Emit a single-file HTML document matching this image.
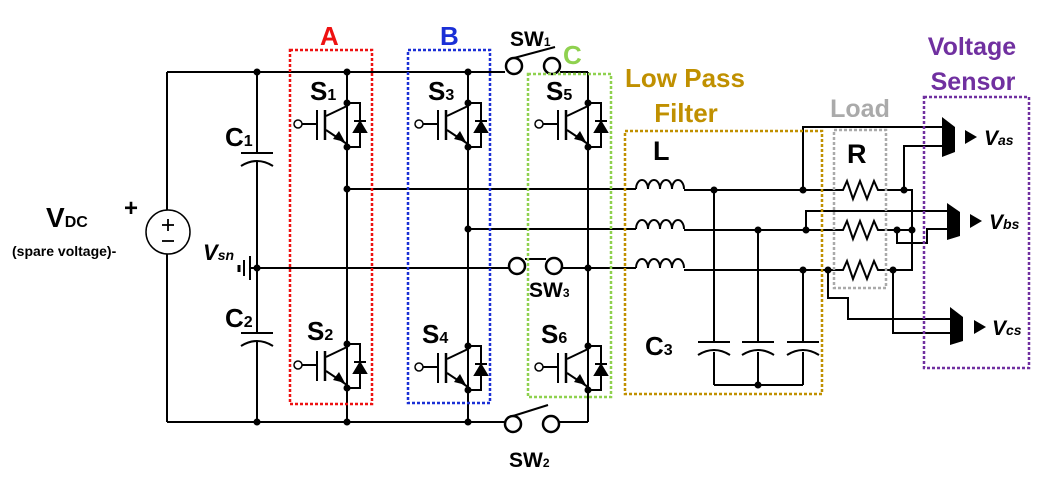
<!DOCTYPE html>
<html><head><meta charset="utf-8"><style>
html,body{margin:0;padding:0;background:#fff}
svg{display:block}
text{font-family:"Liberation Sans",sans-serif;font-weight:bold}
</style></head><body>
<svg width="1055" height="501" viewBox="0 0 1055 501" xmlns="http://www.w3.org/2000/svg">
<defs>
<g id="igbt" stroke="#000" stroke-width="2" fill="none">
<polyline points="0,0 13,0 13,44 0,44"/>
<polygon points="7,29 19,29 13,19" fill="#000"/>
<line x1="7" y1="18" x2="19" y2="18"/>
<line x1="0" y1="3" x2="-21" y2="13"/>
<line x1="-22" y1="7" x2="-22" y2="37" stroke-width="2.5"/>
<line x1="-30" y1="7" x2="-30" y2="37" stroke-width="2"/>
<line x1="-45" y1="21" x2="-30" y2="21"/>
<circle cx="-49" cy="21" r="4" fill="#fff" stroke-width="1.5"/>
<line x1="-21" y1="27" x2="0" y2="41"/>
<polygon points="-2,39 -14,36 -8,28" fill="#000" stroke="none"/>
<circle cx="0" cy="0" r="3.5" fill="#000" stroke="none"/>
<circle cx="0" cy="44" r="3.5" fill="#000" stroke="none"/>
</g>
<path id="coil" d="M0,0 a6,9 0 0 1 12,0 a6,9 0 0 1 12,0 a6,9 0 0 1 12,0 a6,9 0 0 1 12,0" fill="none" stroke="#000" stroke-width="2"/>
<polyline id="res" points="0,0 5,0 9,-9 15,9 22,-9 29,9 36,-9 40,0 45,0" fill="none" stroke="#000" stroke-width="2"/>
<g id="cap" fill="none" stroke="#000" stroke-width="2"><line x1="-16" y1="0" x2="16" y2="0"/><path d="M-16,13 Q0,3 16,13"/></g>
</defs>

<g stroke="#000" stroke-width="2" fill="none">
<line x1="167" y1="72" x2="505" y2="72"/>
<line x1="167" y1="72" x2="167" y2="210"/>
<line x1="167" y1="254" x2="167" y2="422"/>
<line x1="167" y1="422" x2="505" y2="422"/>
<circle cx="168" cy="232" r="22" stroke-width="1.5"/>
<line x1="257" y1="72" x2="257" y2="153"/>
<line x1="257" y1="161" x2="257" y2="333"/>
<line x1="257" y1="341" x2="257" y2="422"/>
<use href="#cap" x="257" y="153"/>
<use href="#cap" x="257" y="333"/>
<line x1="250" y1="256" x2="250" y2="280"/>
<line x1="244" y1="260" x2="244" y2="276"/>
<line x1="239" y1="265" x2="239" y2="272" stroke-width="3"/>
<line x1="250" y1="268" x2="257" y2="268"/>
<line x1="347" y1="72" x2="347" y2="422"/>
<line x1="468" y1="72" x2="468" y2="422"/>
<line x1="588" y1="72" x2="588" y2="390"/>
<line x1="560" y1="72" x2="588" y2="72"/>
<line x1="559" y1="422" x2="588" y2="422"/>
<line x1="588" y1="422" x2="588" y2="390"/>
<line x1="347" y1="189" x2="636" y2="189"/>
<line x1="468" y1="229" x2="636" y2="229"/>
<line x1="257" y1="268" x2="509" y2="268"/>
<line x1="525" y1="259" x2="546" y2="259"/>
<line x1="562" y1="268" x2="636" y2="268"/>
<circle cx="514" cy="66" r="8" stroke-width="2.5"/><circle cx="552" cy="66" r="8" stroke-width="2.5"/>
<line x1="514" y1="58" x2="555" y2="47"/>
<circle cx="517" cy="266" r="8" stroke-width="2.5"/><circle cx="554" cy="266" r="8" stroke-width="2.5"/>
<circle cx="513" cy="424" r="8" stroke-width="2.5"/><circle cx="551" cy="424" r="8" stroke-width="2.5"/>
<line x1="513" y1="416" x2="548" y2="405"/>
<use href="#coil" x="636" y="189"/><use href="#coil" x="636" y="229"/><use href="#coil" x="636" y="268"/>
<line x1="684" y1="190" x2="838" y2="190"/>
<line x1="684" y1="230" x2="838" y2="230"/>
<line x1="684" y1="270" x2="838" y2="270"/>
<line x1="714" y1="190" x2="714" y2="342"/><line x1="758" y1="230" x2="758" y2="342"/><line x1="803" y1="270" x2="803" y2="342"/>
<use href="#cap" x="714" y="342"/><use href="#cap" x="758" y="342"/><use href="#cap" x="803" y="342"/>
<line x1="714" y1="352" x2="714" y2="385"/><line x1="758" y1="352" x2="758" y2="385"/><line x1="803" y1="352" x2="803" y2="385"/>
<line x1="714" y1="385" x2="803" y2="385"/>
<use href="#res" x="838" y="190"/><use href="#res" x="838" y="230"/><use href="#res" x="838" y="270"/>
<polyline points="883,190 912,190 912,270 883,270"/>
<line x1="883" y1="230" x2="912" y2="230"/>
<polyline points="803,190 803,127 942,127"/>
<polyline points="904,190 904,146 942,146"/>
<polyline points="806,230 806,211 947,211"/>
<polyline points="897,230 897,243 927,243 927,229 947,229"/>
<polyline points="828,270 828,298 848,298 848,319 950,319"/>
<polyline points="893,270 893,333 950,333"/>
</g>
<use href="#igbt" x="347" y="103"/><use href="#igbt" x="347" y="344"/>
<use href="#igbt" x="468" y="103"/><use href="#igbt" x="468" y="346"/>
<use href="#igbt" x="588" y="103"/><use href="#igbt" x="588" y="346"/>
<g fill="#000">
<circle cx="257" cy="72" r="3.5"/><circle cx="347" cy="72" r="3.5"/><circle cx="468" cy="72" r="3.5"/>
<circle cx="257" cy="422" r="3.5"/><circle cx="347" cy="422" r="3.5"/><circle cx="468" cy="422" r="3.5"/>
<circle cx="257" cy="268" r="3.5"/><circle cx="347" cy="189" r="3.5"/><circle cx="468" cy="229" r="3.5"/><circle cx="588" cy="268" r="3.5"/>
<circle cx="714" cy="190" r="3.5"/><circle cx="758" cy="230" r="3.5"/><circle cx="803" cy="270" r="3.5"/><circle cx="758" cy="385" r="3.5"/>
<circle cx="803" cy="190" r="3.5"/><circle cx="806" cy="230" r="3.5"/><circle cx="828" cy="270" r="3.5"/>
<circle cx="904" cy="190" r="3.5"/><circle cx="897" cy="230" r="3.5"/><circle cx="912" cy="230" r="3.5"/><circle cx="893" cy="270" r="3.5"/>
</g>
<g fill="#000">
<polygon points="942,117 955,127 955,152 942,157"/>
<polygon points="947,203 960,212 960,236 947,240"/>
<polygon points="950,307 963,317 963,341 950,345"/>
<polygon points="965,130 977,137 965,144"/>
<polygon points="970,214 982,221 970,228"/>
<polygon points="974,320 986,327 974,334"/>
</g>
<g fill="none" stroke-width="2.5" stroke-dasharray="3,2">
<rect x="290" y="50" width="82" height="354" stroke="#ee1111"/>
<rect x="408" y="50" width="82" height="353" stroke="#1a2fd6"/>
<rect x="528" y="74" width="83" height="323" stroke="#8fd14f"/>
<rect x="625" y="131" width="197" height="263" stroke="#c09000"/>
<rect x="834" y="130" width="52" height="158" stroke="#aaaaaa"/>
<rect x="924" y="97" width="105" height="271" stroke="#7030a0"/>
</g>
<g stroke="#000" stroke-width="1.8">
<line x1="162" y1="225" x2="174" y2="225"/><line x1="168" y1="219" x2="168" y2="231"/>
<line x1="162" y1="241" x2="174" y2="241"/>
</g>
<text x="124" y="216" font-size="24">+</text>
<text x="46" y="227" font-size="28">V<tspan font-size="16">DC</tspan></text>
<text x="12" y="256" font-size="14">(spare voltage)-</text>
<text x="203" y="260" font-size="22" font-style="italic">V<tspan font-size="14">sn</tspan></text>
<text x="225" y="146" font-size="26">C<tspan font-size="16">1</tspan></text>
<text x="225" y="327" font-size="26">C<tspan font-size="16">2</tspan></text>
<text x="310" y="100" font-size="26">S<tspan font-size="16">1</tspan></text>
<text x="307" y="340" font-size="26">S<tspan font-size="16">2</tspan></text>
<text x="428" y="100" font-size="26">S<tspan font-size="16">3</tspan></text>
<text x="422" y="343" font-size="26">S<tspan font-size="16">4</tspan></text>
<text x="546" y="100" font-size="26">S<tspan font-size="16">5</tspan></text>
<text x="541" y="343" font-size="26">S<tspan font-size="16">6</tspan></text>
<text x="510" y="46" font-size="21">SW<tspan font-size="12">1</tspan></text>
<text x="529" y="297" font-size="21">SW<tspan font-size="12">3</tspan></text>
<text x="509" y="467" font-size="21">SW<tspan font-size="12">2</tspan></text>
<text x="320" y="45" font-size="26" fill="#ee1111">A</text>
<text x="440" y="45" font-size="26" fill="#1a2fd6">B</text>
<text x="563" y="64" font-size="26" fill="#8fd14f">C</text>
<text x="685" y="87" font-size="26" fill="#c09000" text-anchor="middle">Low Pass</text>
<text x="686" y="122" font-size="26" fill="#c09000" text-anchor="middle">Filter</text>
<text x="860" y="117" font-size="25" fill="#aaaaaa" text-anchor="middle">Load</text>
<text x="972" y="55" font-size="25" fill="#7030a0" text-anchor="middle">Voltage</text>
<text x="973" y="90" font-size="25" fill="#7030a0" text-anchor="middle">Sensor</text>
<text x="653" y="160" font-size="27">L</text>
<text x="847" y="163" font-size="27">R</text>
<text x="645" y="355" font-size="26">C<tspan font-size="16">3</tspan></text>
<text x="984" y="145" font-size="21" font-style="italic">V<tspan font-size="14">as</tspan></text>
<text x="989" y="229" font-size="21" font-style="italic">V<tspan font-size="14">bs</tspan></text>
<text x="992" y="335" font-size="21" font-style="italic">V<tspan font-size="14">cs</tspan></text>
</svg>
</body></html>
